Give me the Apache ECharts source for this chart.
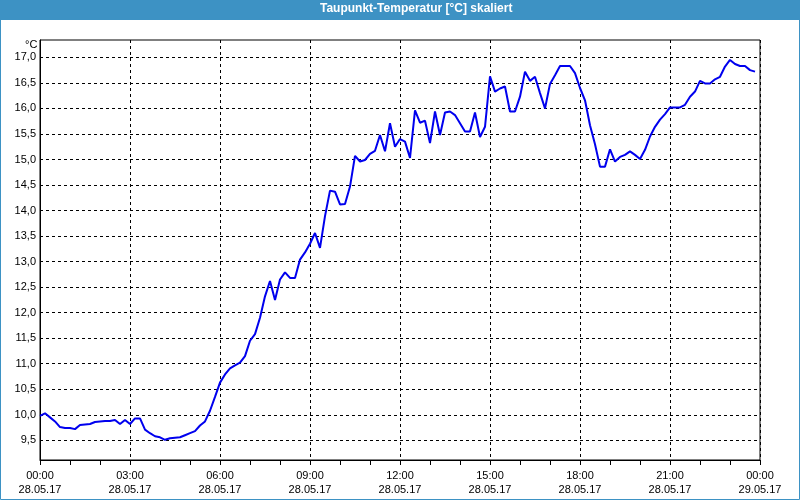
<!DOCTYPE html>
<html>
<head>
<meta charset="utf-8">
<script src="https://cdn.jsdelivr.net/npm/echarts@6/dist/echarts.min.js"></script>
<style>
html,body{margin:0;padding:0;background:#fff;}
#c{width:800px;height:500px;}
</style>
</head>
<body>
<div id="c"></div>
<script>
var chartTitle = 'Taupunkt-Temperatur [°C] skaliert';
var unitLabel = '°C';
var stepMinutes = 10; // sampling interval of the measurement series
var dewPoint = [
  9.98, 10.03, 9.95, 9.87, 9.76, 9.74, 9.74, 9.72, 9.80, 9.81, 9.82, 9.86,
  9.87, 9.88, 9.88, 9.90, 9.82, 9.90, 9.82, 9.93, 9.93, 9.71, 9.64, 9.58,
  9.56, 9.51, 9.54, 9.55, 9.56, 9.60, 9.64, 9.68, 9.79, 9.87, 10.08, 10.35,
  10.63, 10.79, 10.91, 10.97, 11.02, 11.15, 11.45, 11.58, 11.90, 12.32, 12.62, 12.25,
  12.65, 12.79, 12.68, 12.68, 13.04, 13.18, 13.35, 13.56, 13.27, 13.89, 14.39, 14.37,
  14.12, 14.13, 14.47, 15.07, 14.96, 14.99, 15.11, 15.17, 15.48, 15.16, 15.71, 15.25,
  15.40, 15.35, 15.03, 15.96, 15.72, 15.76, 15.32, 15.94, 15.48, 15.92, 15.94, 15.87,
  15.71, 15.55, 15.55, 15.92, 15.44, 15.64, 16.63, 16.33, 16.39, 16.43, 15.94, 15.94,
  16.23, 16.72, 16.54, 16.62, 16.30, 16.00, 16.48, 16.65, 16.83, 16.83, 16.83, 16.69,
  16.40, 16.16, 15.67, 15.30, 14.86, 14.86, 15.20, 14.96, 15.05, 15.09, 15.16, 15.09,
  15.01, 15.19, 15.45, 15.64, 15.78, 15.89, 16.02, 16.02, 16.02, 16.07, 16.23, 16.33,
  16.54, 16.49, 16.49, 16.57, 16.62, 16.82, 16.95, 16.87, 16.83, 16.83, 16.75, 16.72
];
var xTickLabels = [
  '00:00\n28.05.17', '03:00\n28.05.17', '06:00\n28.05.17', '09:00\n28.05.17',
  '12:00\n28.05.17', '15:00\n28.05.17', '18:00\n28.05.17', '21:00\n28.05.17',
  '00:00\n29.05.17'
];
var yTicks = [9.5, 10.0, 10.5, 11.0, 11.5, 12.0, 12.5, 13.0, 13.5, 14.0, 14.5, 15.0, 15.5, 16.0, 16.5, 17.0];
var yMin = 9.115, yMax = 17.34;
var xMinutesMax = 1440, xLabelStep = 180;

var seriesData = dewPoint.map(function (v, i) { return [i * stepMinutes, v]; });
var FONT = 'Liberation Sans';
var chart = echarts.init(document.getElementById('c'), null, {renderer: 'canvas'});
chart.setOption({
  animation: false,
  backgroundColor: '#ffffff',
  graphic: [
    {type: 'rect', shape: {x: 0, y: 0, width: 800, height: 20}, style: {fill: '#3d92c4'}, z: -1},
    {type: 'rect', shape: {x: 0.5, y: 0.5, width: 799, height: 499}, style: {fill: null, stroke: '#3d92c4', lineWidth: 1}, z: -1}
  ],
  title: [
    {text: chartTitle, left: 320, top: 3, padding: 0,
     textStyle: {color: '#ffffff', fontFamily: FONT, fontSize: 12, fontWeight: 'bold'}},
    {text: unitLabel, left: 25, top: 39, padding: 0,
     textStyle: {color: '#000000', fontFamily: FONT, fontSize: 11, fontWeight: 'normal'}}
  ],
  grid: {left: 40, right: 40, top: 40, bottom: 40, show: true, borderColor: '#000', borderWidth: 1, backgroundColor: 'transparent'},
  xAxis: {
    type: 'value', min: 0, max: xMinutesMax, interval: xLabelStep,
    axisLine: {show: true, lineStyle: {color: '#000', width: 1}},
    axisTick: {show: true, length: 5, inside: false, lineStyle: {color: '#000'}},
    minorTick: {show: true, splitNumber: 3, length: 5, lineStyle: {color: '#000'}},
    splitLine: {show: true, lineStyle: {color: '#000', type: [3, 3], width: 1}},
    axisLabel: {
      margin: 9, color: '#000', fontFamily: FONT, fontSize: 11, lineHeight: 14,
      showMinLabel: true, showMaxLabel: true,
      formatter: function (v) { return xTickLabels[Math.round(v / xLabelStep)] || ''; }
    }
  },
  yAxis: {
    type: 'value', min: yMin, max: yMax,
    axisLine: {show: true, lineStyle: {color: '#000', width: 1}},
    axisTick: {show: false, customValues: yTicks},
    splitLine: {show: true, lineStyle: {color: '#000', type: [3, 3], width: 1}},
    axisLabel: {
      customValues: yTicks, margin: 4, color: '#000', fontFamily: FONT, fontSize: 11,
      formatter: function (v) { return v.toFixed(1).replace('.', ','); }
    }
  },
  series: [{
    type: 'line', data: seriesData, showSymbol: false, symbol: 'none',
    lineStyle: {color: '#0000ee', width: 2}, z: 3
  }]
});
</script>
</body>
</html>
